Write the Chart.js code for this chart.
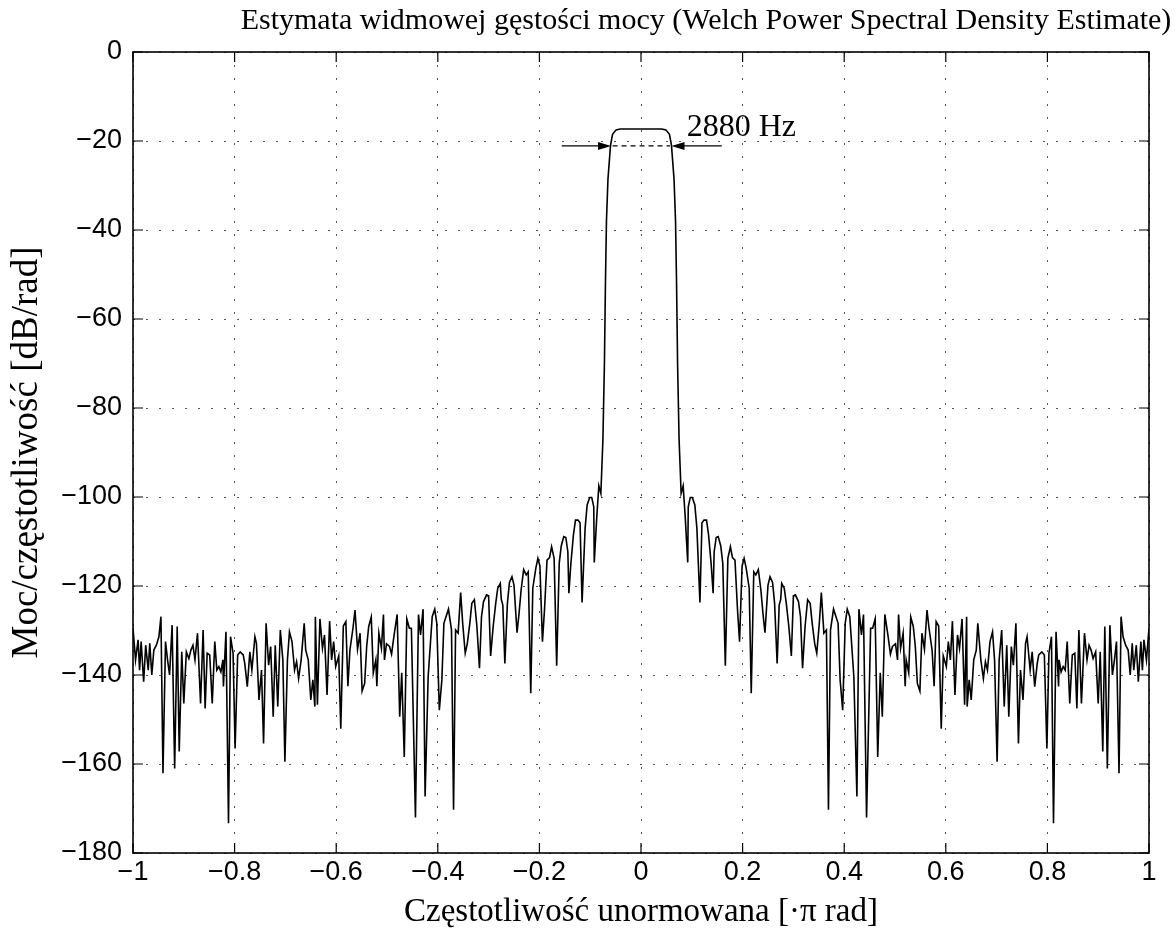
<!DOCTYPE html>
<html lang="pl">
<head>
    <meta charset="UTF-8">
    <title>Welch PSD</title>
    <script src="https://cdn.jsdelivr.net/npm/chart.js"></script>
    <style>
        html, body { margin: 0; padding: 0; background: #fff; }
        #psd-chart { display: block; }
    </style>
</head>
<body>
    <canvas id="psd-chart" width="1176" height="946"></canvas>

    <script>
        // Texts
        const chartTitle = 'Estymata widmowej gęstości mocy (Welch Power Spectral Density Estimate)';
        const xTitle = 'Częstotliwość unormowana [·π rad]';
        const yTitle = 'Moc/częstotliwość [dB/rad]';

        // Tick values
        const xTickValues = [-1, -0.8, -0.6, -0.4, -0.2, 0, 0.2, 0.4, 0.6, 0.8, 1];
        const yTickValues = [-180, -160, -140, -120, -100, -80, -60, -40, -20, 0];

        // Spectrum, left part (normalized frequency, dB/rad)
        const freqLeft = [
            -1.000,-0.995,-0.990,-0.987,-0.984,-0.979,-0.975,-0.970,-0.967,-0.963,
            -0.959,-0.954,-0.949,-0.945,-0.941,-0.936,-0.932,-0.928,-0.923,-0.918,
            -0.913,-0.909,-0.904,-0.900,-0.895,-0.890,-0.886,-0.882,-0.878,-0.873,
            -0.867,-0.862,-0.858,-0.854,-0.849,-0.844,-0.839,-0.835,-0.831,-0.827,
            -0.823,-0.822,-0.817,-0.812,-0.808,-0.803,-0.799,-0.794,-0.789,-0.783,
            -0.780,-0.775,-0.770,-0.766,-0.760,-0.757,-0.752,-0.747,-0.743,-0.738,
            -0.733,-0.729,-0.724,-0.720,-0.715,-0.710,-0.705,-0.701,-0.696,-0.692,
            -0.687,-0.682,-0.678,-0.674,-0.669,
            -0.663,-0.660,-0.655,-0.650,-0.646,-0.642,-0.641,-0.637,-0.632,-0.627,
            -0.623,-0.618,-0.613,-0.609,-0.605,-0.601,-0.595,-0.591,-0.586,-0.581,
            -0.577,-0.573,-0.567,-0.563,-0.558,-0.553,-0.549,-0.544,-0.540,-0.536,
            -0.531,-0.527,-0.522,-0.520,-0.516,-0.511,-0.507,-0.505,-0.501,-0.495,
            -0.491,-0.486,-0.480,-0.475,-0.471,-0.466,-0.461,-0.456,-0.452,-0.444,
            -0.438,-0.434,-0.429,-0.425,-0.419,-0.411,-0.406,-0.402,-0.397,-0.392,
            -0.388,-0.379,-0.373,-0.369,-0.365,-0.360,-0.355,-0.351,-0.346,-0.342,
            -0.337,
            -0.333,-0.328,-0.323,-0.318,-0.314,-0.310,-0.304,-0.300,-0.296,-0.291,
            -0.286,-0.282,-0.277,-0.275,-0.272,-0.268,-0.263,-0.259,-0.254,-0.250,
            -0.244,-0.240,-0.236,-0.231,-0.226,-0.222,-0.217,-0.213,-0.207,-0.203,
            -0.199,-0.194,-0.190,-0.185,-0.180,-0.176,-0.171,-0.166,-0.161,-0.157,
            -0.152,-0.148,-0.144,-0.142,-0.138,-0.133,-0.129,-0.124,-0.120,-0.116,
            -0.110,-0.106,-0.101,-0.097,-0.093,-0.092,-0.087,-0.083,-0.079,-0.075
        ];
        const psdLeft = [
            -129.5,-136.6,-132.1,-138.9,-132.5,-141.5,-133.3,-138.9,-132.9,-140.0,
            -134.4,-133.3,-131.4,-126.9,-162.1,-132.5,-136.6,-140.0,-128.8,-161.0,
            -129.1,-157.2,-134.8,-146.4,-134.8,-136.3,-134.4,-133.3,-136.6,-130.6,
            -146.4,-129.9,-147.5,-135.1,-135.5,-146.4,-132.5,-138.9,-138.1,-139.3,
            -136.6,-142.6,-130.3,-173.3,-131.4,-135.1,-156.5,-135.5,-134.8,-135.5,
            -137.4,-142.6,-134.8,-138.9,-131.4,-132.9,-145.6,-138.9,-155.4,-128.4,
            -137.8,-133.6,-149.4,-133.3,-147.1,-129.9,-136.6,-159.5,-136.6,-130.3,
            -132.5,-138.9,-137.0,-140.8,-136.6,
            -128.4,-134.4,-136.6,-145.6,-141.1,-147.1,-126.9,-146.7,-127.4,-134.0,
            -131.0,-144.5,-127.9,-136.6,-132.5,-138.1,-135.7,-152.1,-129.0,-128.0,
            -142.5,-134.4,-129.5,-125.4,-134.2,-130.6,-143.6,-141.9,-133.6,-129.1,
            -127.0,-139.5,-136.6,-142.5,-130.6,-134.0,-126.4,-136.6,-133.0,-133.6,
            -135.3,-131.0,-126.4,-149.4,-139.5,-158.4,-127.4,-129.5,-129.5,-172.0,
            -126.4,-131.0,-125.2,-167.3,-140.4,-126.9,-125.2,-128.4,-147.9,-141.1,
            -128.4,-125.2,-129.9,-170.3,-129.9,-130.6,-121.5,-128.4,-135.1,-133.0,
            -128.4,
            -123.9,-123.1,-129.1,-138.5,-126.9,-123.5,-122.0,-122.2,-135.7,-129.1,
            -123.9,-120.5,-119.4,-123.0,-124.3,-137.4,-123.9,-119.2,-117.9,-119.8,
            -130.5,-126.1,-120.9,-116.3,-117.5,-116.8,-144.1,-120.5,-116.0,-113.8,
            -115.5,-132.5,-125.4,-114.2,-113.6,-111.2,-113.8,-137.9,-114.9,-111.0,
            -108.9,-109.1,-112.3,-121.6,-114.9,-108.5,-105.2,-105.2,-105.8,-123.7,
            -107.0,-101.8,-100.1,-100.1,-102.2,-114.7,-104.4,-97.5,-99.2,-87.2
        ];

        // Main lobe
        const freqLobe = [
            -0.072,-0.070,-0.068,-0.065,-0.060,-0.056,-0.049,-0.041,0.000,
            0.041,0.049,0.056,0.060,0.065,0.068,0.070,0.072
        ];
        const psdLobe = [
            -70.0,-52.0,-38.0,-28.5,-21.0,-18.5,-17.5,-17.3,-17.3,
            -17.3,-17.5,-18.5,-21.0,-28.5,-38.0,-52.0,-70.0
        ];

        // Spectrum, right part
        const freqRight = [
            0.075,0.079,0.083,0.087,0.092,0.093,0.097,0.101,0.106,0.110,
            0.116,0.120,0.124,0.129,0.133,0.138,0.142,0.144,0.148,0.152,
            0.157,0.161,0.166,0.171,0.176,0.180,0.185,0.190,0.194,0.199,
            0.203,0.207,0.213,0.217,0.222,0.226,0.231,0.236,0.240,0.244,
            0.250,0.254,0.259,0.263,0.268,0.272,0.275,0.277,0.282,0.286,
            0.291,0.296,0.300,0.304,0.310,0.314,0.318,0.323,0.328,0.333,
            0.337,
            0.342,0.346,0.351,0.355,0.360,0.365,0.369,0.373,0.379,0.388,
            0.392,0.397,0.402,0.406,0.411,0.419,0.425,0.429,0.434,0.438,
            0.444,0.452,0.456,0.461,0.466,0.471,0.475,0.480,0.486,0.491,
            0.495,0.501,0.505,0.507,0.511,0.516,0.520,0.522,0.527,0.531,
            0.536,0.540,0.544,0.549,0.553,0.558,0.563,0.567,0.573,0.577,
            0.581,0.586,0.591,0.595,0.601,0.605,0.609,0.613,0.618,0.623,
            0.627,0.632,0.637,0.641,0.642,0.646,0.650,0.655,0.660,0.663,
            0.669,0.674,0.678,0.682,0.687,
            0.692,0.696,0.701,0.705,0.710,0.715,0.720,0.724,0.729,0.733,
            0.738,0.743,0.747,0.752,0.757,0.760,0.766,0.770,0.775,0.780,
            0.783,0.789,0.794,0.799,0.803,0.808,0.812,0.817,0.822,0.823,
            0.827,0.831,0.835,0.839,0.844,0.849,0.854,0.858,0.862,0.867,
            0.873,0.878,0.882,0.886,0.890,0.895,0.900,0.904,0.909,0.913,
            0.918,0.923,0.928,0.932,0.936,0.941,0.945,0.949,0.954,0.959,
            0.963,0.967,0.970,0.975,0.979,0.984,0.987,0.990,0.995,1.000
        ];
        const psdRight = [
            -87.2,-99.2,-97.5,-104.4,-114.7,-102.2,-100.1,-100.1,-101.8,-107.0,
            -123.7,-105.8,-105.2,-105.2,-108.5,-114.9,-121.6,-112.3,-109.1,-108.9,
            -111.0,-114.9,-137.9,-113.8,-111.2,-113.6,-114.2,-125.4,-132.5,-115.5,
            -113.8,-116.0,-120.5,-144.1,-116.8,-117.5,-116.3,-120.9,-126.1,-130.5,
            -119.8,-117.9,-119.2,-123.9,-137.4,-124.3,-123.0,-119.4,-120.5,-123.9,
            -129.1,-135.7,-122.2,-122.0,-123.5,-126.9,-138.5,-129.1,-123.1,-123.9,
            -128.4,
            -133.0,-135.1,-128.4,-121.5,-130.6,-129.9,-170.3,-129.9,-125.2,-128.4,
            -141.1,-147.9,-128.4,-125.2,-126.9,-140.4,-167.3,-125.2,-131.0,-126.4,
            -172.0,-129.5,-129.5,-127.4,-158.4,-139.5,-149.4,-126.4,-131.0,-135.3,
            -133.6,-133.0,-136.6,-126.4,-134.0,-130.6,-142.5,-136.6,-139.5,-127.0,
            -129.1,-133.6,-141.9,-143.6,-130.6,-134.2,-125.4,-129.5,-134.4,-142.5,
            -128.0,-129.0,-152.1,-135.7,-138.1,-132.5,-136.6,-127.9,-144.5,-131.0,
            -134.0,-127.4,-146.7,-126.9,-147.1,-141.1,-145.6,-136.6,-134.4,-128.4,
            -136.6,-140.8,-137.0,-138.9,-132.5,
            -130.3,-136.6,-159.5,-136.6,-129.9,-147.1,-133.3,-149.4,-133.6,-137.8,
            -128.4,-155.4,-138.9,-145.6,-132.9,-131.4,-138.9,-134.8,-142.6,-137.4,
            -135.5,-134.8,-135.5,-156.5,-135.1,-131.4,-173.3,-130.3,-142.6,-136.6,
            -139.3,-138.1,-138.9,-132.5,-146.4,-135.5,-135.1,-147.5,-129.9,-146.4,
            -130.6,-136.6,-133.3,-134.4,-136.3,-134.8,-146.4,-134.8,-157.2,-129.1,
            -161.0,-128.8,-140.0,-136.6,-132.5,-162.1,-126.9,-131.4,-133.3,-134.4,
            -140.0,-132.9,-138.9,-133.3,-141.5,-132.5,-138.9,-132.1,-136.6,-129.5
        ];

        // Bandwidth annotation (data units)
        const bwLabel = '2880 Hz';
        const bwLevel = -21.1;
        const bwArrowLeft = [-0.156, -0.059];
        const bwArrowRight = [0.159, 0.060];
        const bwDash = [-0.056, 0.057];
        const bwLabelPos = [0.090, -18.9];

        const freq = freqLeft.concat(freqLobe, freqRight);
        const psd = psdLeft.concat(psdLobe, psdRight);
        const points = freq.map((f, i) => ({ x: f, y: psd[i] }));

        const serif = '"Liberation Serif", "Times New Roman", serif';
        const sans = '"Liberation Sans", Arial, sans-serif';

        function fmtTick(v) {
            if (Math.abs(v) < 1e-9) return '0';
            return String(+v.toFixed(1)).replace('-', '\u2212');
        }

        // MATLAB-like box with inward ticks, plus the title
        const framePlugin = {
            id: 'frame',
            afterDraw(chart) {
                const { ctx, chartArea: a, scales } = chart;
                const len = 10;
                ctx.save();
                ctx.strokeStyle = '#000';
                ctx.lineWidth = 1.2;
                ctx.beginPath();
                scales.x.ticks.forEach(t => {
                    const px = scales.x.getPixelForValue(t.value);
                    ctx.moveTo(px, a.bottom); ctx.lineTo(px, a.bottom - len);
                    ctx.moveTo(px, a.top); ctx.lineTo(px, a.top + len);
                });
                scales.y.ticks.forEach(t => {
                    const py = scales.y.getPixelForValue(t.value);
                    ctx.moveTo(a.left, py); ctx.lineTo(a.left + len, py);
                    ctx.moveTo(a.right, py); ctx.lineTo(a.right - len, py);
                });
                ctx.stroke();
                ctx.lineWidth = 1.6;
                ctx.strokeRect(a.left, a.top, a.right - a.left, a.bottom - a.top);

                ctx.fillStyle = '#000';
                ctx.font = '30px ' + serif;
                ctx.textAlign = 'center';
                ctx.textBaseline = 'alphabetic';
                ctx.fillText(chartTitle, 706, 29);
                ctx.restore();
            }
        };

        const bandwidthPlugin = {
            id: 'bandwidth',
            afterDatasetsDraw(chart) {
                const { ctx, scales: { x, y } } = chart;
                const py = y.getPixelForValue(bwLevel);
                const arrow = (from, to) => {
                    const x0 = x.getPixelForValue(from), x1 = x.getPixelForValue(to);
                    const dir = Math.sign(x1 - x0);
                    ctx.beginPath(); ctx.moveTo(x0, py); ctx.lineTo(x1 - dir * 6, py); ctx.stroke();
                    ctx.beginPath();
                    ctx.moveTo(x1, py);
                    ctx.lineTo(x1 - dir * 13, py - 4);
                    ctx.lineTo(x1 - dir * 13, py + 4);
                    ctx.closePath();
                    ctx.fill();
                };
                ctx.save();
                ctx.strokeStyle = '#000';
                ctx.fillStyle = '#000';
                ctx.lineWidth = 1.2;
                arrow(bwArrowLeft[0], bwArrowLeft[1]);
                arrow(bwArrowRight[0], bwArrowRight[1]);
                ctx.setLineDash([5, 4]);
                ctx.beginPath();
                ctx.moveTo(x.getPixelForValue(bwDash[0]), py);
                ctx.lineTo(x.getPixelForValue(bwDash[1]), py);
                ctx.stroke();
                ctx.setLineDash([]);
                ctx.font = '32px ' + serif;
                ctx.textAlign = 'left';
                ctx.textBaseline = 'alphabetic';
                ctx.fillText(bwLabel, x.getPixelForValue(bwLabelPos[0]), y.getPixelForValue(bwLabelPos[1]));
                ctx.restore();
            }
        };

        const ctx = document.getElementById('psd-chart').getContext('2d');
        new Chart(ctx, {
            type: 'line',
            data: {
                datasets: [{
                    data: points,
                    borderColor: '#000',
                    borderWidth: 1.6,
                    pointRadius: 0,
                    fill: false,
                    tension: 0
                }]
            },
            options: {
                responsive: false,
                animation: false,
                layout: { padding: { top: 52, right: 27, bottom: 0, left: 0 } },
                plugins: {
                    legend: { display: false },
                    tooltip: { enabled: false }
                },
                scales: {
                    x: {
                        type: 'linear',
                        min: -1,
                        max: 1,
                        afterBuildTicks: s => { s.ticks = xTickValues.map(v => ({ value: v })); },
                        afterFit: s => { s.height = 93; },
                        grid: { color: '#555', lineWidth: 1, drawTicks: false },
                        border: { display: false, dash: [2, 11] },
                        ticks: {
                            padding: 3,
                            color: '#000',
                            font: { family: sans, size: 27 },
                            maxRotation: 0,
                            autoSkip: false,
                            callback: v => fmtTick(v)
                        },
                        title: {
                            display: true,
                            text: xTitle,
                            color: '#000',
                            font: { family: serif, size: 33 },
                            padding: { top: 0, bottom: 14 }
                        }
                    },
                    y: {
                        type: 'linear',
                        min: -180,
                        max: 0,
                        afterBuildTicks: s => { s.ticks = yTickValues.map(v => ({ value: v })); },
                        afterFit: s => { s.width = 133; },
                        grid: { color: '#555', lineWidth: 1, drawTicks: false },
                        border: { display: false, dash: [2, 11] },
                        ticks: {
                            padding: 11,
                            color: '#000',
                            font: { family: sans, size: 27 },
                            autoSkip: false,
                            callback: v => fmtTick(v)
                        },
                        title: {
                            display: true,
                            text: yTitle,
                            color: '#000',
                            font: { family: serif, size: 37 },
                            padding: { top: 5, bottom: 0 }
                        }
                    }
                }
            },
            plugins: [framePlugin, bandwidthPlugin]
        });
    </script>
</body>
</html>
